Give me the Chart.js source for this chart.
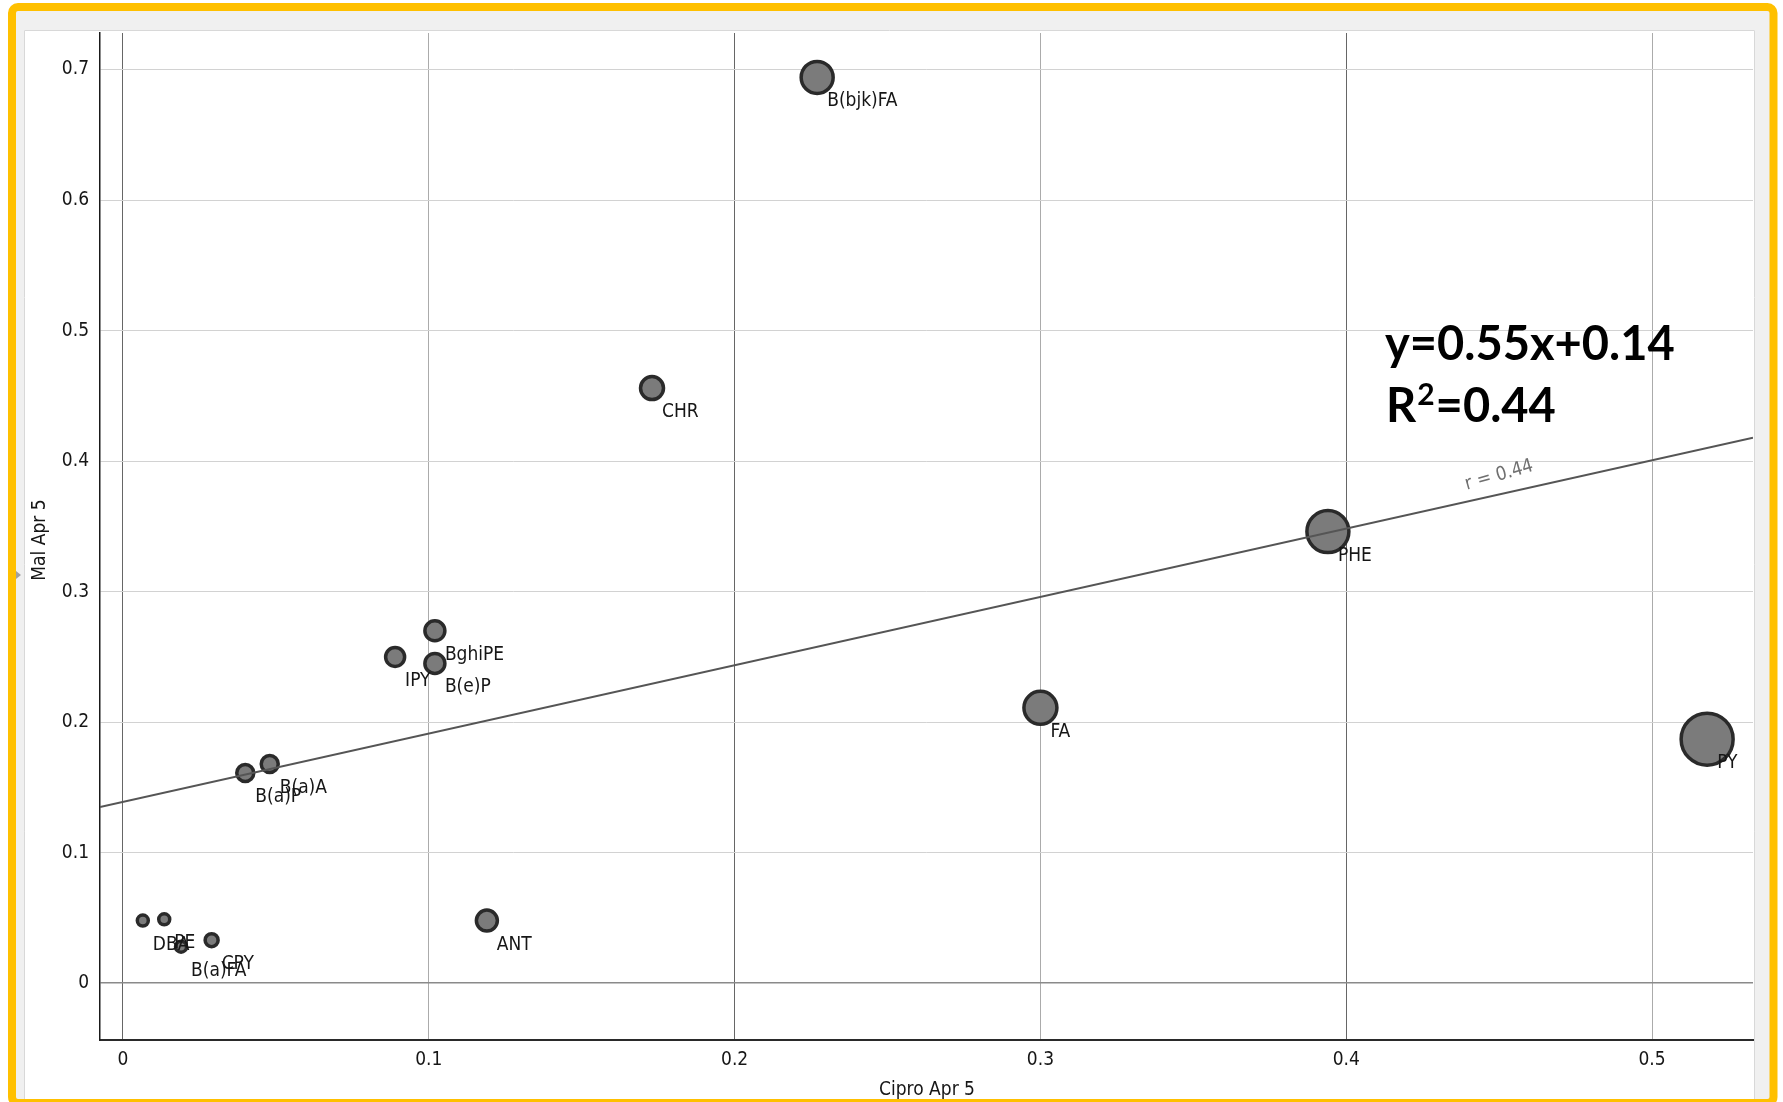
<!DOCTYPE html>
<html>
<head>
<meta charset="utf-8">
<title>Cipro Apr 5 vs Mal Apr 5</title>
<script src="https://cdn.jsdelivr.net/npm/chart.js@4.4.1/dist/chart.umd.min.js"></script>
<style>
    html, body { margin: 0; padding: 0; background: #fff; }
    #chart { display: block; }
</style>
</head>
<body>
<canvas id="chart" width="1783" height="1102"></canvas>
<script>
// Compounds and their values
const LABELS = ['B(bjk)FA', 'CHR', 'PHE', 'FA', 'PY', 'BghiPE', 'B(e)P', 'IPY', 'B(a)A', 'B(a)P', 'ANT', 'DBA', 'PE', 'B(a)FA', 'CPY'];
const CIPRO = [0.227, 0.173, 0.394, 0.300, 0.518, 0.102, 0.102, 0.089, 0.048, 0.040, 0.119, 0.0065, 0.0135, 0.019, 0.029];
const MAL = [0.694, 0.456, 0.346, 0.211, 0.187, 0.270, 0.245, 0.250, 0.168, 0.161, 0.048, 0.048, 0.049, 0.028, 0.033];
const SIZES = [16, 11.5, 21, 16.5, 26, 10, 10, 9.5, 8.5, 8.5, 10.5, 5.5, 5.5, 5.5, 6.5];

// Fitted line, end points as drawn
const FIT_X = [-0.0075, 0.533];
const FIT_Y = [0.135, 0.418];

const X_TICKS = [0, 0.1, 0.2, 0.3, 0.4, 0.5];
const X_TICK_LABELS = ['0', '0.1', '0.2', '0.3', '0.4', '0.5'];
const Y_TICKS = [0, 0.1, 0.2, 0.3, 0.4, 0.5, 0.6, 0.7];
const Y_TICK_LABELS = ['0', '0.1', '0.2', '0.3', '0.4', '0.5', '0.6', '0.7'];

const X_TITLE = 'Cipro Apr 5';
const Y_TITLE = 'Mal Apr 5';
const FIT_NOTE = 'r = 0.44';
const EQUATION = 'y=0.55x+0.14';
const R2_VALUE = '=0.44';

const FONT = "'DejaVu Sans Condensed', 'DejaVu Sans', sans-serif";
const BIG_FONT = "Lato, 'Open Sans', sans-serif";
const TEXT = '#161616';

// yellow frame, grey panel, white sheet
const framePlugin = {
    id: 'frame',
    beforeDraw(chart) {
        const ctx = chart.ctx;
        ctx.save();
        ctx.fillStyle = '#fff';
        ctx.fillRect(0, 0, chart.width, chart.height);
        ctx.fillStyle = '#f0f0f0';
        ctx.fillRect(16, 11, 1754, 1088);
        ctx.fillStyle = '#fff';
        ctx.fillRect(24, 30, 1731, 1069);
        ctx.strokeStyle = '#d8d8d8';
        ctx.lineWidth = 1;
        ctx.beginPath();
        ctx.moveTo(24.5, 1099);
        ctx.lineTo(24.5, 30.5);
        ctx.lineTo(1754.5, 30.5);
        ctx.lineTo(1754.5, 1099);
        ctx.stroke();
        ctx.strokeStyle = '#FFC000';
        ctx.lineWidth = 8;
        ctx.beginPath();
        ctx.roundRect(12, 7, 1761.5, 1096, 6);
        ctx.stroke();
        // little collapse arrow on the left edge
        ctx.fillStyle = '#a0a0a0';
        ctx.beginPath();
        ctx.moveTo(16, 571);
        ctx.lineTo(21, 575);
        ctx.lineTo(16, 579);
        ctx.closePath();
        ctx.fill();
        ctx.restore();
    }
};

const labelPlugin = {
    id: 'pointLabels',
    afterDatasetsDraw(chart) {
        const { ctx, scales: { x, y } } = chart;
        ctx.save();
        ctx.font = `19px ${FONT}`;
        ctx.fillStyle = TEXT;
        ctx.textBaseline = 'alphabetic';
        LABELS.forEach((name, i) => {
            ctx.fillText(name, x.getPixelForValue(CIPRO[i]) + 10, y.getPixelForValue(MAL[i]) + 29);
        });
        ctx.restore();
    }
};

const textPlugin = {
    id: 'texts',
    afterDraw(chart) {
        const { ctx, scales: { x, y } } = chart;
        ctx.save();

        // axis titles
        ctx.font = `19px ${FONT}`;
        ctx.fillStyle = TEXT;
        ctx.textAlign = 'center';
        ctx.textBaseline = 'alphabetic';
        ctx.fillText(X_TITLE, 927, 1095);
        ctx.save();
        ctx.translate(45, 540);
        ctx.rotate(-Math.PI / 2);
        ctx.fillText(Y_TITLE, 0, 0);
        ctx.restore();

        // note along the fitted line
        const nx = 0.45;
        const ny = FIT_Y[0] + (nx - FIT_X[0]) * (FIT_Y[1] - FIT_Y[0]) / (FIT_X[1] - FIT_X[0]);
        ctx.save();
        ctx.translate(x.getPixelForValue(nx), y.getPixelForValue(ny) - 19);
        ctx.rotate(-16 * Math.PI / 180);
        ctx.fillStyle = '#707070';
        ctx.textBaseline = 'middle';
        ctx.fillText(FIT_NOTE, 0, 0);
        ctx.restore();

        // equation block
        ctx.textAlign = 'left';
        ctx.fillStyle = '#000';
        ctx.font = `bold 47px ${BIG_FONT}`;
        ctx.fillText(EQUATION, 1385, 360);
        ctx.fillText('R', 1386, 422);
        let rx = 1386 + ctx.measureText('R').width + 1;
        ctx.font = `bold 30px ${BIG_FONT}`;
        ctx.fillText('2', rx, 405);
        rx += ctx.measureText('2').width + 1;
        ctx.font = `bold 47px ${BIG_FONT}`;
        ctx.fillText(R2_VALUE, rx, 422);

        ctx.restore();
    }
};

const canvas = document.getElementById('chart');

new Chart(canvas, {
    type: 'bubble',
    data: {
        datasets: [
            {
                type: 'line',
                data: FIT_X.map((v, i) => ({ x: v, y: FIT_Y[i] })),
                borderColor: '#555',
                borderWidth: 2,
                pointRadius: 0,
                fill: false,
            },
            {
                data: CIPRO.map((v, i) => ({ x: v, y: MAL[i], r: SIZES[i] })),
                backgroundColor: '#7b7b7b',
                borderColor: '#2a2a2a',
                borderWidth: 3.5,
            }
        ]
    },
    options: {
        responsive: false,
        animation: false,
        events: [],
        layout: { padding: { top: 33, right: 30, left: 0, bottom: 0 } },
        plugins: {
            legend: { display: false },
            tooltip: { enabled: false },
        },
        scales: {
            x: {
                type: 'linear',
                min: -0.0075,
                max: 0.533,
                afterFit: s => { s.height = 62; },
                afterBuildTicks: s => { s.ticks = X_TICKS.map(v => ({ value: v })); },
                grid: {
                    drawTicks: false,
                    color: c => (c.tick && [0, 0.2, 0.4].includes(c.tick.value)) ? '#666' : '#ababab',
                    lineWidth: 1,
                },
                border: { display: true, color: '#2a2a2a', width: 2 },
                ticks: {
                    padding: 9,
                    color: TEXT,
                    font: { family: FONT, size: 19 },
                    maxRotation: 0,
                    callback: v => X_TICK_LABELS[X_TICKS.indexOf(v)],
                },
            },
            y: {
                type: 'linear',
                min: -0.0435,
                max: 0.728,
                afterFit: s => { s.width = 100; },
                afterBuildTicks: s => { s.ticks = Y_TICKS.map(v => ({ value: v })); },
                grid: {
                    drawTicks: false,
                    color: c => (c.tick && c.tick.value === 0) ? '#8a8a8a' : '#d2d2d2',
                    lineWidth: c => (c.tick && c.tick.value === 0) ? 1.5 : 1,
                },
                border: { display: true, color: '#1a1a1a', width: 1.5 },
                ticks: {
                    padding: 11,
                    color: TEXT,
                    font: { family: FONT, size: 19 },
                    callback: v => Y_TICK_LABELS[Y_TICKS.indexOf(v)],
                },
            }
        }
    },
    plugins: [framePlugin, labelPlugin, textPlugin]
});
</script>
</body>
</html>
